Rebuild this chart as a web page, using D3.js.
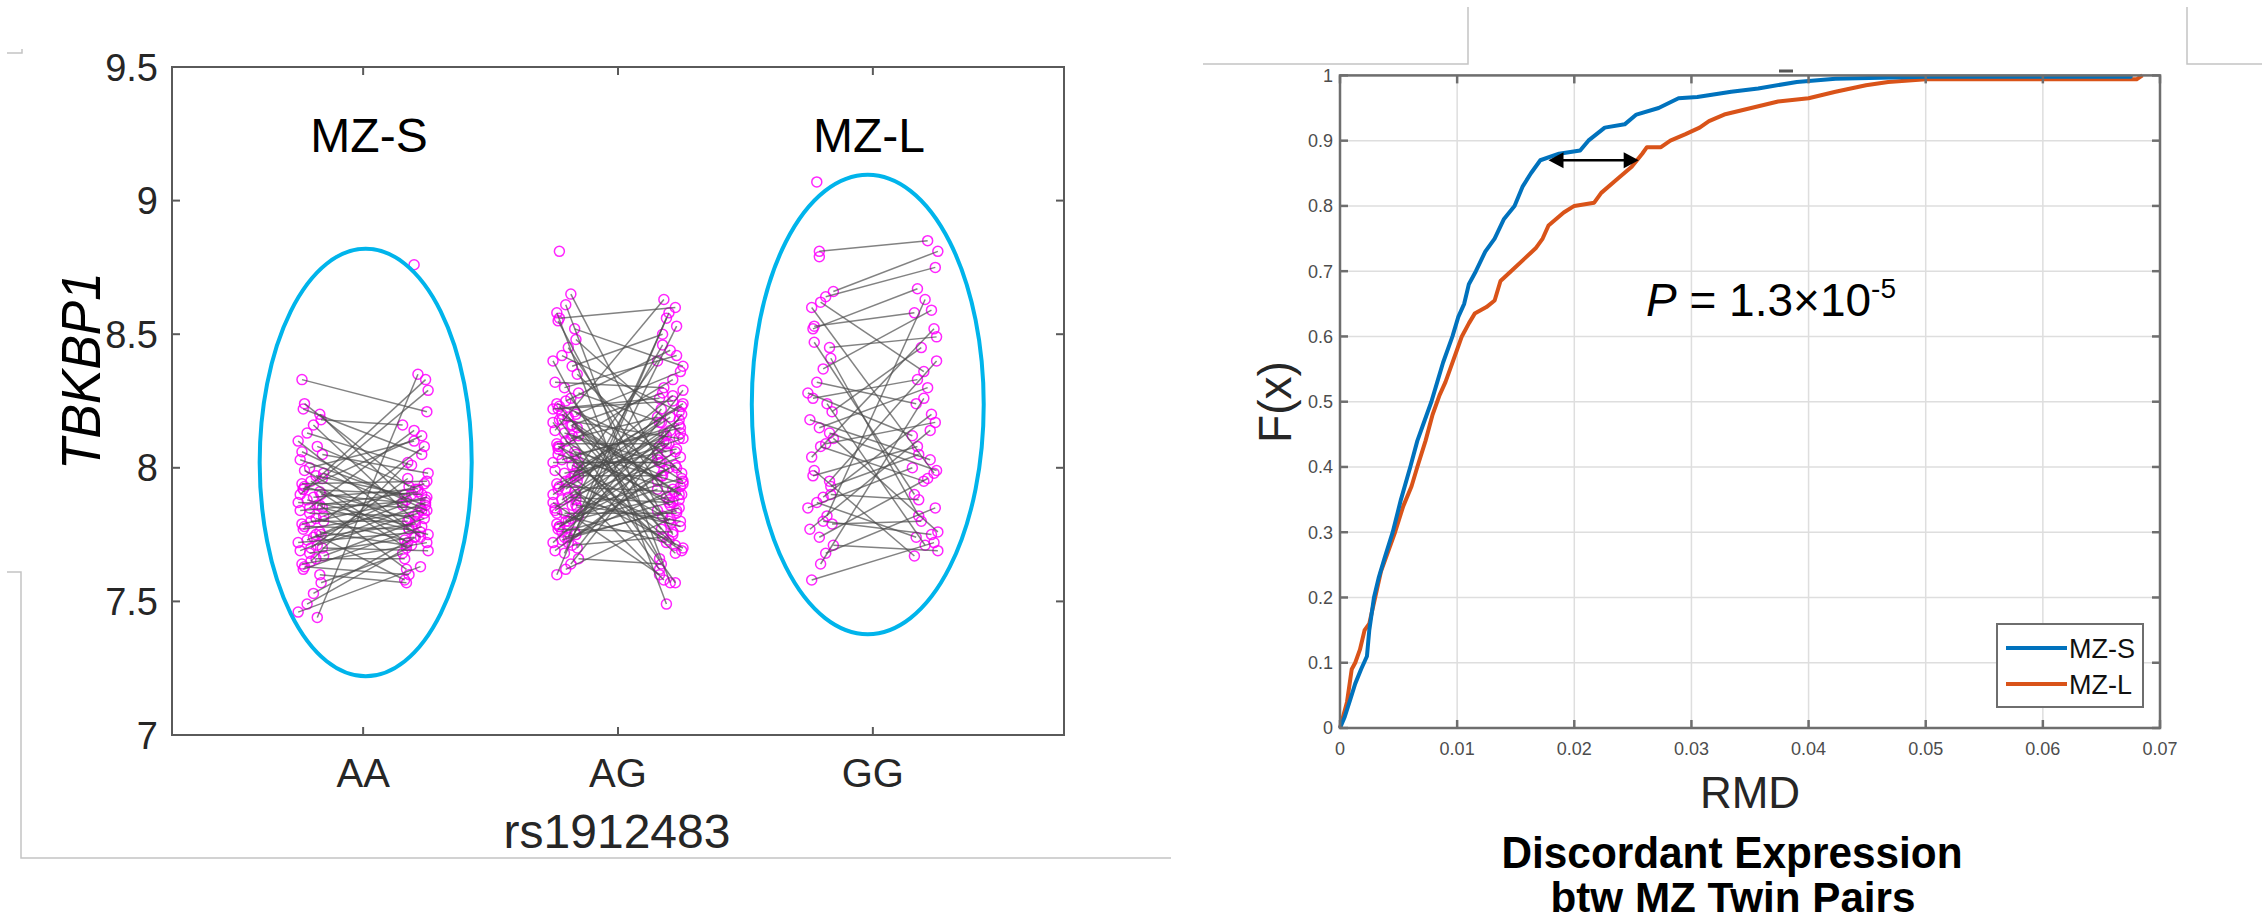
<!DOCTYPE html>
<html>
<head>
<meta charset="utf-8">
<script src="https://cdn.jsdelivr.net/npm/d3@7"></script>
<style>
  html, body { margin: 0; padding: 0; background: #ffffff; }
  svg { display: block; font-family: "Liberation Sans", Arial, sans-serif; }
</style>
</head>
<body>
<svg id="fig" width="2262" height="924"></svg>
<script>
// ---------- Left panel: TBKBP1 expression of MZ twin pairs by rs1912483 genotype ----------
const genotypes = ["AA", "AG", "GG"];
const yTicksLeft = [7, 7.5, 8, 8.5, 9, 9.5];

// twin 1 / twin 2 expression, one entry per pair
const aaTwin1 = [8.33,8.24,8.22,8.20,8.18,8.16,8.13,8.10,8.08,8.05,
                 8.03,8.00,7.98,7.97,7.95,7.94,7.93,7.92,7.91,7.90,
                 7.89,7.88,7.87,7.86,7.85,7.84,7.83,7.82,7.81,7.80,
                 7.79,7.78,7.77,7.76,7.75,7.74,7.73,7.72,7.71,7.70,
                 7.69,7.68,7.67,7.66,7.65,7.64,7.63,7.62,7.60,7.57,
                 7.53,7.49,7.46,7.44,7.96,7.90,7.85,7.80,7.75,7.70,
                 8.06,7.99,7.92,7.86];
const aaTwin2 = [8.21,7.93,8.05,7.88,8.16,7.80,8.01,7.74,7.92,7.98,
                 7.86,8.10,7.83,7.90,7.72,7.95,7.81,7.90,7.70,7.87,
                 7.92,7.78,7.85,7.91,7.75,7.88,7.82,7.94,7.73,7.80,
                 7.89,7.77,7.84,7.71,7.86,7.79,7.90,7.76,7.83,7.69,
                 7.87,7.74,7.81,7.66,8.02,7.72,7.60,7.78,7.57,7.68,
                 7.74,7.71,7.63,8.35,8.29,8.33,8.14,8.08,7.58,7.96,
                 7.84,7.77,8.12,7.62];

const agTwin1 = [8.65,8.61,8.58,8.56,8.55,8.52,8.48,8.45,8.42,8.40,
                 8.38,8.35,8.32,8.30,8.28,8.26,8.25,8.24,8.23,8.22,
                 8.21,8.20,8.19,8.18,8.17,8.16,8.15,8.14,8.13,8.12,
                 8.11,8.10,8.09,8.08,8.07,8.06,8.05,8.04,8.03,8.02,
                 8.01,8.00,7.99,7.98,7.97,7.96,7.95,7.94,7.93,7.92,
                 7.91,7.90,7.89,7.88,7.87,7.86,7.85,7.84,7.83,7.82,
                 7.81,7.80,7.79,7.78,7.77,7.76,7.75,7.74,7.73,7.72,
                 7.71,7.70,7.69,7.68,7.66,7.64,7.62,7.60,8.18,8.05,
                 7.98,7.88,7.80,7.76,8.22,8.12,7.95,7.85,7.74,8.02,
                 8.16,7.92,7.83,7.78,8.08,7.97,7.86,7.72,8.20,7.90];
const agTwin2 = [8.03,7.57,7.49,8.60,7.75,8.38,8.13,7.88,8.21,7.66,
                 8.50,7.98,8.30,8.42,8.17,7.84,8.44,8.06,7.71,8.25,
                 7.95,8.36,7.80,8.11,7.62,8.28,7.90,8.63,8.00,7.77,
                 8.19,7.86,8.09,7.68,8.33,7.94,8.15,7.73,8.16,8.02,
                 7.82,8.23,7.58,8.07,7.97,8.40,7.79,8.12,7.91,8.27,
                 7.70,8.04,7.87,8.18,7.60,8.46,7.96,8.10,7.83,8.22,
                 7.92,8.14,7.89,8.01,7.76,8.29,7.93,8.58,7.85,8.08,
                 7.74,8.20,7.99,8.53,7.64,8.05,7.81,8.56,7.57,7.92,
                 8.24,7.78,8.09,7.88,8.26,7.97,7.69,8.13,7.84,8.02,
                 7.95,8.19,7.72,8.06,7.87,8.11,7.80,8.00,7.90,8.17];

const ggTwin1 = [8.81,8.66,8.64,8.62,8.60,8.53,8.52,8.45,8.41,8.37,
                 8.32,8.28,8.24,8.21,8.18,8.15,8.11,8.09,8.08,8.04,
                 7.99,7.97,7.95,7.90,7.89,7.87,7.85,7.82,7.79,7.77,
                 7.74,7.71,7.68,7.64,7.58,8.47,8.26,8.13,7.93,7.80];
const ggTwin2 = [8.85,8.81,8.75,8.36,7.98,8.58,8.67,8.49,7.82,8.59,
                 8.24,8.12,7.71,8.45,8.03,8.30,7.76,8.17,7.95,8.52,
                 7.67,8.08,8.40,7.88,8.20,7.74,8.00,8.63,7.80,8.14,
                 7.96,7.69,7.85,8.26,7.72,7.90,8.33,7.99,8.05,7.75];

// samples whose co-twin value is missing
const loneGenotype = ["AA", "AG", "GG", "GG"];
const loneTwin     = [2, 1, 1, 1];
const loneValue    = [8.76, 8.81, 9.07, 8.79];

const groupLabels = ["MZ-S", "MZ-L"];

// ---------- Right panel: empirical CDF of relative mean difference ----------
const cdfSeries = ["MZ-S", "MZ-L"];
const xTicksRight = [0, 0.01, 0.02, 0.03, 0.04, 0.05, 0.06, 0.07];
const yTicksRight = [0, 0.1, 0.2, 0.3, 0.4, 0.5, 0.6, 0.7, 0.8, 0.9, 1];

const mzsRMD = [0,0.0004,0.0009,0.0013,0.0018,0.0023,0.0025,0.0029,0.0033,0.0038,
                0.0045,0.0052,0.0060,0.0066,0.0072,0.0078,0.0083,0.0088,0.0096,0.0101,
                0.0106,0.0110,0.0116,0.0124,0.0132,0.0140,0.0149,0.0156,0.0163,0.0171,
                0.0187,0.0205,0.0212,0.0226,0.0243,0.0253,0.0272,0.0289,0.0305,0.0334,
                0.0357,0.0390,0.0423,0.0500,0.0675,0.0675];
const mzsF   = [0,0.017,0.045,0.068,0.09,0.11,0.15,0.20,0.23,0.26,
                0.30,0.35,0.40,0.44,0.47,0.50,0.53,0.56,0.60,0.63,
                0.65,0.68,0.70,0.73,0.75,0.78,0.80,0.83,0.85,0.87,
                0.88,0.885,0.90,0.92,0.925,0.94,0.95,0.965,0.967,0.975,
                0.98,0.99,0.995,0.998,0.998,1.0];

const mzlRMD = [0,0.0006,0.0010,0.0013,0.0017,0.0021,0.0025,0.0030,0.0035,0.0041,
                0.0047,0.0054,0.0061,0.0066,0.0073,0.0079,0.0085,0.0090,0.0094,0.0100,
                0.0104,0.0110,0.0115,0.0125,0.0132,0.0137,0.0146,0.0158,0.0167,0.0173,
                0.0178,0.0191,0.0200,0.0217,0.0223,0.0236,0.0249,0.0258,0.0262,0.0274,
                0.0282,0.0295,0.0307,0.0315,0.0328,0.0351,0.0374,0.0400,0.0423,0.0449,
                0.0468,0.0500,0.0680,0.0685];
const mzlF   = [0,0.04,0.09,0.10,0.12,0.15,0.16,0.20,0.24,0.27,
                0.30,0.34,0.37,0.40,0.44,0.48,0.51,0.53,0.55,0.58,
                0.60,0.62,0.635,0.645,0.655,0.685,0.70,0.72,0.735,0.75,
                0.77,0.79,0.80,0.805,0.82,0.84,0.86,0.88,0.89,0.89,
                0.90,0.91,0.92,0.93,0.94,0.95,0.96,0.965,0.975,0.985,
                0.99,0.994,0.994,1.0];

// quantile gap marked by the double arrow
const gapF = 0.87;
const gapFrom = 0.0178, gapTo = 0.0255;
const pLabel = { mantissa: "1.3", exponent: "-5" };

// ---------- drawing ----------
const svg = d3.select("#fig");

// slide frame remnants
const frame = svg.append("g").attr("fill", "none").attr("stroke", "#c4c4c4").attr("stroke-width", 1.5);
frame.append("path").attr("d", "M7,53 H22 V49");
frame.append("path").attr("d", "M7,572 H21 V858 H1171");
frame.append("path").attr("d", "M1203,64 H1468 V7");
frame.append("path").attr("d", "M2187,7 V64 H2262");

// ----- left panel -----
const xL = d3.scaleLinear().domain([0.25, 3.75]).range([172, 1064]);
const yL = d3.scaleLinear().domain([7, 9.5]).range([735, 67]);
const twinOffset = 0.205;
const jitterPattern = [-0.035, 0.02, -0.005, 0.045, -0.05, 0.01, 0.035, -0.025, 0.0, 0.05, -0.042, 0.025, -0.015, 0.04, -0.03];

const groups = [
  { g: "AA", t1: aaTwin1, t2: aaTwin2 },
  { g: "AG", t1: agTwin1, t2: agTwin2 },
  { g: "GG", t1: ggTwin1, t2: ggTwin2 }
];

const left = svg.append("g");

// ellipses around the extreme genotype groups
const ellipses = [
  { g: "AA", cx: 1.01, cy: 8.02, rx: 0.416, ry: 0.80 },
  { g: "GG", cx: 2.98, cy: 8.237, rx: 0.455, ry: 0.86 }
];

const pts = [], segs = [];
groups.forEach((grp, gi) => {
  const c = gi + 1;
  const n = Math.min(grp.t1.length, grp.t2.length);
  for (let i = 0; i < n; i++) {
    const j1 = jitterPattern[(i * 7 + gi) % jitterPattern.length];
    const j2 = jitterPattern[(i * 4 + 3 + gi) % jitterPattern.length];
    const p1 = { x: c - twinOffset + j1, v: grp.t1[i] };
    const p2 = { x: c + twinOffset + j2, v: grp.t2[i] };
    pts.push(p1, p2);
    segs.push([p1, p2]);
  }
});
loneGenotype.forEach((g, i) => {
  const c = genotypes.indexOf(g) + 1;
  const side = loneTwin[i] === 1 ? -1 : 1;
  pts.push({ x: c + side * twinOffset + jitterPattern[(i * 5 + 2) % jitterPattern.length], v: loneValue[i] });
});

left.append("g").selectAll("circle").data(pts).join("circle")
  .attr("cx", d => xL(d.x)).attr("cy", d => yL(d.v)).attr("r", 5)
  .attr("fill", "none").attr("stroke", "#ff00ff").attr("stroke-width", 1.5).attr("stroke-opacity", 0.85);

left.append("g").selectAll("line").data(segs).join("line")
  .attr("x1", d => xL(d[0].x)).attr("y1", d => yL(d[0].v))
  .attr("x2", d => xL(d[1].x)).attr("y2", d => yL(d[1].v))
  .attr("stroke", "#4d4d4d").attr("stroke-width", 1.5).attr("stroke-opacity", 0.7);

left.append("g").selectAll("ellipse").data(ellipses).join("ellipse")
  .attr("cx", d => xL(d.cx)).attr("cy", d => yL(d.cy))
  .attr("rx", d => xL(d.cx + d.rx) - xL(d.cx))
  .attr("ry", d => yL(d.cy - d.ry) - yL(d.cy))
  .attr("fill", "none").attr("stroke", "#00b4eb").attr("stroke-width", 4);

// axes box and inward ticks
const boxL = left.append("g").attr("stroke", "#5a5a5a").attr("stroke-width", 2).attr("fill", "none");
boxL.append("rect").attr("x", 172).attr("y", 67).attr("width", 1064 - 172).attr("height", 735 - 67);
yTicksLeft.forEach(v => {
  boxL.append("line").attr("x1", 172).attr("x2", 180).attr("y1", yL(v)).attr("y2", yL(v));
  boxL.append("line").attr("x1", 1064).attr("x2", 1056).attr("y1", yL(v)).attr("y2", yL(v));
});
genotypes.forEach((g, i) => {
  boxL.append("line").attr("x1", xL(i + 1)).attr("x2", xL(i + 1)).attr("y1", 735).attr("y2", 727);
  boxL.append("line").attr("x1", xL(i + 1)).attr("x2", xL(i + 1)).attr("y1", 67).attr("y2", 75);
});

left.append("g").selectAll("text").data(yTicksLeft).join("text")
  .attr("x", 158).attr("y", d => yL(d)).attr("dy", "0.36em")
  .attr("text-anchor", "end").attr("font-size", 38).attr("fill", "#262626")
  .text(d => d3.format("~g")(d));

left.append("g").selectAll("text").data(genotypes).join("text")
  .attr("x", (d, i) => xL(i + 1)).attr("y", 787)
  .attr("text-anchor", "middle").attr("font-size", 40).attr("fill", "#262626")
  .text(d => d);

left.append("text").attr("x", 617).attr("y", 848).attr("text-anchor", "middle")
  .attr("font-size", 48).attr("fill", "#262626").text("rs1912483");

left.append("text").attr("transform", "translate(100,371) rotate(-90)")
  .attr("text-anchor", "middle").attr("font-size", 55).attr("font-style", "italic")
  .attr("fill", "#000").attr("textLength", 198).attr("lengthAdjust", "spacingAndGlyphs")
  .text("TBKBP1");

left.append("g").selectAll("text").data(groupLabels).join("text")
  .attr("x", (d, i) => i === 0 ? 369 : 869).attr("y", 152)
  .attr("text-anchor", "middle").attr("font-size", 48).attr("fill", "#000")
  .text(d => d);

// ----- right panel -----
const xR = d3.scaleLinear().domain([0, 0.07]).range([1340, 2160]);
const yR = d3.scaleLinear().domain([0, 1]).range([728, 75.4]);
const right = svg.append("g");

const grid = right.append("g").attr("stroke", "#dedede").attr("stroke-width", 1.5);
xTicksRight.forEach(v => grid.append("line").attr("x1", xR(v)).attr("x2", xR(v)).attr("y1", yR(0)).attr("y2", yR(1)));
yTicksRight.forEach(v => grid.append("line").attr("x1", xR(0)).attr("x2", xR(0.07)).attr("y1", yR(v)).attr("y2", yR(v)));

// tiny clipped mark above the axes
right.append("line").attr("x1", 1779).attr("x2", 1793).attr("y1", 71).attr("y2", 71)
  .attr("stroke", "#555").attr("stroke-width", 3);

const lineGen = d3.line().x(d => xR(d[0])).y(d => yR(d[1]));
const seriesData = [
  { name: cdfSeries[0], color: "#0072bd", pts: d3.zip(mzsRMD, mzsF) },
  { name: cdfSeries[1], color: "#d95319", pts: d3.zip(mzlRMD, mzlF) }
];
right.append("g").selectAll("path").data(seriesData.slice().reverse()).join("path")
  .attr("d", d => lineGen(d.pts)).attr("fill", "none")
  .attr("stroke", d => d.color).attr("stroke-width", 4).attr("stroke-linejoin", "round");

const boxR = right.append("g").attr("stroke", "#6e6e6e").attr("stroke-width", 2.5).attr("fill", "none");
boxR.append("rect").attr("x", xR(0)).attr("y", yR(1)).attr("width", xR(0.07) - xR(0)).attr("height", yR(0) - yR(1));
xTicksRight.forEach(v => {
  boxR.append("line").attr("x1", xR(v)).attr("x2", xR(v)).attr("y1", yR(0)).attr("y2", yR(0) - 8);
  boxR.append("line").attr("x1", xR(v)).attr("x2", xR(v)).attr("y1", yR(1)).attr("y2", yR(1) + 8);
});
yTicksRight.forEach(v => {
  boxR.append("line").attr("x1", xR(0)).attr("x2", xR(0) + 8).attr("y1", yR(v)).attr("y2", yR(v));
  boxR.append("line").attr("x1", xR(0.07)).attr("x2", xR(0.07) - 8).attr("y1", yR(v)).attr("y2", yR(v));
});

right.append("g").selectAll("text").data(yTicksRight).join("text")
  .attr("x", 1333).attr("y", d => yR(d)).attr("dy", "0.36em")
  .attr("text-anchor", "end").attr("font-size", 18).attr("fill", "#4d4d4d")
  .text(d => d3.format("~g")(d));
right.append("g").selectAll("text").data(xTicksRight).join("text")
  .attr("x", d => xR(d)).attr("y", 755)
  .attr("text-anchor", "middle").attr("font-size", 18).attr("fill", "#4d4d4d")
  .text(d => d3.format("~g")(d));

right.append("text").attr("transform", "translate(1291,402) rotate(-90)")
  .attr("text-anchor", "middle").attr("font-size", 46).attr("fill", "#262626").text("F(x)");
right.append("text").attr("x", 1750).attr("y", 808).attr("text-anchor", "middle")
  .attr("font-size", 44).attr("fill", "#262626").text("RMD");

// double-headed arrow between the curves
const ay = yR(gapF), ax1 = xR(gapFrom), ax2 = xR(gapTo);
right.append("line").attr("x1", ax1 + 10).attr("x2", ax2 - 10).attr("y1", ay).attr("y2", ay)
  .attr("stroke", "#000").attr("stroke-width", 2.5);
right.append("path").attr("d", `M${ax1},${ay} L${ax1 + 15},${ay - 8} L${ax1 + 15},${ay + 8} Z`).attr("fill", "#000");
right.append("path").attr("d", `M${ax2},${ay} L${ax2 - 15},${ay - 8} L${ax2 - 15},${ay + 8} Z`).attr("fill", "#000");

// p-value annotation
const pt = right.append("text").attr("x", 1646).attr("y", 316).attr("font-size", 46).attr("fill", "#000");
pt.append("tspan").attr("font-style", "italic").text("P");
pt.append("tspan").text(` = ${pLabel.mantissa}\u00d710`);
pt.append("tspan").attr("font-size", 28).attr("dy", -18).text(pLabel.exponent);

// legend
const lg = right.append("g");
lg.append("rect").attr("x", 1997).attr("y", 624).attr("width", 146).attr("height", 83)
  .attr("fill", "#fff").attr("stroke", "#6e6e6e").attr("stroke-width", 2);
seriesData.forEach((s, i) => {
  const yy = 648 + i * 36;
  lg.append("line").attr("x1", 2006).attr("x2", 2067).attr("y1", yy).attr("y2", yy)
    .attr("stroke", s.color).attr("stroke-width", 4);
  lg.append("text").attr("x", 2069).attr("y", yy + 10).attr("font-size", 27).attr("fill", "#111").text(s.name);
});

// caption
svg.append("text").attr("x", 1732).attr("y", 868).attr("text-anchor", "middle")
  .attr("font-size", 44).attr("font-weight", "bold").attr("fill", "#000")
  .attr("textLength", 461).attr("lengthAdjust", "spacingAndGlyphs").text("Discordant Expression");
svg.append("text").attr("x", 1733).attr("y", 912).attr("text-anchor", "middle")
  .attr("font-size", 43).attr("font-weight", "bold").attr("fill", "#000")
  .attr("textLength", 365).attr("lengthAdjust", "spacingAndGlyphs").text("btw MZ Twin Pairs");
</script>
</body>
</html>
